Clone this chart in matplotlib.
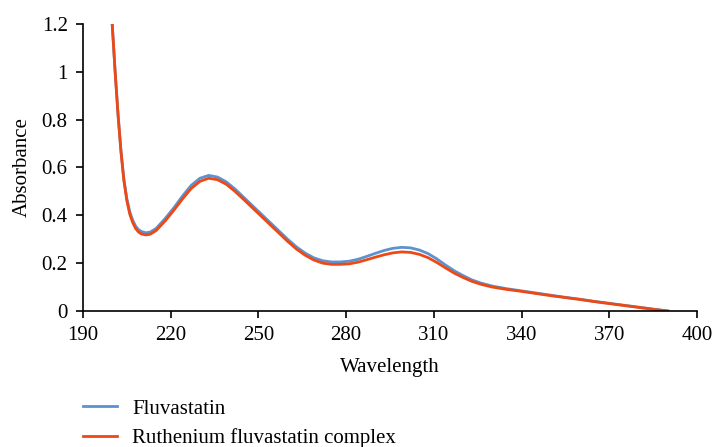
import matplotlib
matplotlib.use("Agg")
import matplotlib.pyplot as plt
from matplotlib.ticker import FuncFormatter

# UV-Vis spectra, absorbance vs wavelength (nm)
wavelength = [200, 201, 202, 203, 204, 205, 206, 207, 208, 209, 210, 211.5, 213, 215,
              218, 221, 224, 227, 230, 233, 236, 239, 242, 245, 248, 251, 254, 257,
              260, 263, 266, 269, 272, 275, 278, 281, 284, 287, 290, 293, 296, 299,
              302, 305, 308, 311, 314, 317, 320, 323, 326, 330, 335, 340, 345, 350,
              355, 360, 365, 370, 375, 380, 385, 390]

fluvastatin = [1.20, 1.00, 0.82, 0.67, 0.55, 0.47, 0.415, 0.38, 0.355, 0.34, 0.332, 0.327,
               0.330, 0.345, 0.385, 0.430, 0.480, 0.525, 0.555, 0.567, 0.560, 0.540,
               0.510, 0.475, 0.440, 0.405, 0.370, 0.335, 0.300, 0.268, 0.242, 0.222,
               0.210, 0.205, 0.205, 0.208, 0.216, 0.228, 0.241, 0.253, 0.262, 0.266,
               0.264, 0.255, 0.240, 0.218, 0.192, 0.168, 0.148, 0.130, 0.117, 0.104,
               0.093, 0.084, 0.075, 0.066, 0.057, 0.049, 0.040, 0.032, 0.024, 0.016,
               0.008, 0.000]

ru_complex = [1.20, 1.00, 0.82, 0.665, 0.545, 0.462, 0.405, 0.37, 0.345, 0.330, 0.322, 0.318,
              0.321, 0.336, 0.375, 0.420, 0.468, 0.512, 0.542, 0.555, 0.549, 0.530,
              0.500, 0.466, 0.431, 0.396, 0.361, 0.326, 0.291, 0.259, 0.233, 0.213,
              0.200, 0.195, 0.195, 0.197, 0.204, 0.214, 0.225, 0.235, 0.243, 0.247,
              0.245, 0.237, 0.223, 0.203, 0.180, 0.158, 0.140, 0.124, 0.112, 0.100,
              0.090, 0.082, 0.073, 0.064, 0.056, 0.048, 0.039, 0.031, 0.023, 0.015,
              0.007, 0.000]

xticks = [190, 220, 250, 280, 310, 340, 370, 400]
yticks = [0, 0.2, 0.4, 0.6, 0.8, 1.0, 1.2]

plt.rcParams["font.family"] = ["Liberation Serif", "DejaVu Serif"]
plt.rcParams["font.size"] = 15

fig = plt.figure(figsize=(7.14, 4.47), dpi=100)
ax = fig.add_axes([0.1162, 0.3043, 0.860, 0.642])

ax.plot(wavelength, fluvastatin, color="#5b93d0", lw=2.0, label="Fluvastatin")
ax.plot(wavelength, ru_complex, color="#ee4814", lw=2.0, label="Ruthenium fluvastatin complex")

ax.set_xlim(190, 400)
ax.set_ylim(0, 1.2)
ax.set_xticks(xticks)
ax.set_yticks(yticks)
ax.yaxis.set_major_formatter(FuncFormatter(lambda v, p: f"{v:g}"))
ax.set_xlabel("Wavelength", labelpad=9)
ax.set_ylabel("Absorbance", labelpad=7)

for s in ("top", "right"):
    ax.spines[s].set_visible(False)
for s in ("left", "bottom"):
    ax.spines[s].set_linewidth(1.2)
ax.tick_params(direction="out", length=5, width=1.2, pad=6)

fig.legend(loc="upper left", bbox_to_anchor=(0.105, 0.126), frameon=False,
           handlelength=1.6, handletextpad=0.75, labelspacing=0.45, borderaxespad=0)

fig.savefig("out.png", dpi=100)
